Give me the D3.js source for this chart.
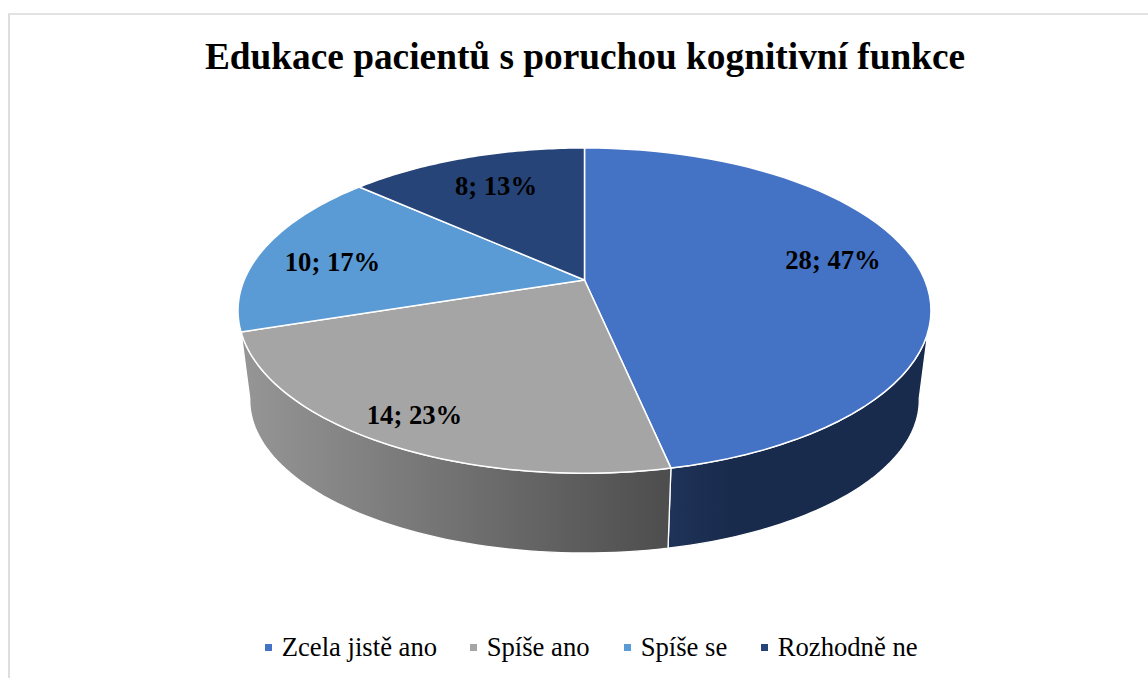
<!DOCTYPE html>
<html><head><meta charset="utf-8">
<style>html,body{margin:0;padding:0;background:#fff}svg{display:block}text{font-family:"Liberation Serif",serif;fill:#000}</style>
<script src="https://cdn.jsdelivr.net/npm/d3@7"></script></head>
<body><div id="chart"></div>
<script>
const titleText = "Edukace pacientů s poruchou kognitivní funkce";
const categories = ["Zcela jistě ano","Spíše ano","Spíše se","Rozhodně ne"];
const values = [28,14,10,8];
const percents = [47,23,17,13];
const faceColors = ["#4472C4","#A5A5A5","#5B9BD5","#264478"];
const wallFrom = ["#1E3359","#969696","#5B9BD5","#264478"];
const wallTo = ["#192B4C","#4D4D4D","#5B9BD5","#264478"];

const W=1148,H=678;
const svg=d3.select("#chart").append("svg").attr("width",W).attr("height",H);
svg.append("path").attr("d","M9,678V14H1148").attr("fill","none").attr("stroke","#D9D9D9").attr("stroke-width",1.7);

svg.append("text").attr("x",585).attr("y",69).attr("text-anchor","middle")
  .attr("font-size",37.33).attr("font-weight","bold").text(titleText);

// perspective disc: unit circle -> screen
const cx=584.5, persp=0.185;
const project=(disc)=>(a)=>{
  const u=Math.sin(a), v=Math.cos(a), d=1+persp*v;
  return [cx+disc.A*u/d,(disc.a+disc.b*v)/d];
};
const topDisc=project({A:340.5,a:280.5,b:-105.2});
const baseDisc=project({A:329,a:371.7,b:-79});
const pie=d3.pie().sort(null).value(d=>d)(values);
const rad=d=>d*Math.PI/180;
const visStart=rad(100), visEnd=rad(260);
const arcPts=(f,a0,a1)=>d3.range(0,61).map(i=>f(a0+(a1-a0)*i/60));
const line=d3.line();

const defs=svg.append("defs");
const wallSlices=pie.filter(s=>s.endAngle>visStart&&s.startAngle<visEnd&&Math.min(s.endAngle,visEnd)-Math.max(s.startAngle,visStart)>rad(20));
wallSlices.forEach((s,k)=>{
  const i=s.index, a0=Math.max(s.startAngle,visStart), a1=Math.min(s.endAngle,visEnd);
  const last=k===wallSlices.length-1;
  const t=arcPts(topDisc,a0,a1), b=arcPts(baseDisc,a0,last?visEnd:a1);
  const all=t.concat(b);
  const xs=d3.extent(all,p=>p[0]);
  const g=defs.append("linearGradient").attr("id","w"+i).attr("gradientUnits","userSpaceOnUse")
    .attr("x1",i===0?xs[1]:xs[0]).attr("x2",i===0?xs[0]:xs[1]).attr("y1",0).attr("y2",0);
  if(i===0){g.append("stop").attr("offset",0).attr("stop-color",wallTo[i]);g.append("stop").attr("offset",.75).attr("stop-color",wallTo[i]);g.append("stop").attr("offset",1).attr("stop-color",wallFrom[i]);}
  else{g.append("stop").attr("offset",0).attr("stop-color",wallFrom[i]);g.append("stop").attr("offset",1).attr("stop-color",wallTo[i]);}
  svg.append("path").attr("d",line(t.concat(b.reverse()))+"Z")
    .attr("fill",`url(#w${i})`).attr("stroke","#fff").attr("stroke-width",1.3).attr("stroke-linejoin","round");
});
// top faces
const apex=[cx,280];
pie.forEach(s=>{
  svg.append("path").attr("d",line([apex].concat(arcPts(topDisc,s.startAngle,s.endAngle)))+"Z")
    .attr("fill",faceColors[s.index]).attr("stroke","#fff").attr("stroke-width",1.5).attr("stroke-linejoin","round");
});
// data labels
const labelPos=[[833,269],[414.5,424],[332.5,271],[496,195]];
values.forEach((v,i)=>{
  svg.append("text").attr("x",labelPos[i][0]).attr("y",labelPos[i][1]).attr("text-anchor","middle")
    .attr("font-size",26.67).attr("font-weight","bold").text(`${v}; ${percents[i]}%`);
});
// legend
const legendX=[265,470,624,761];
categories.forEach((c,i)=>{
  svg.append("rect").attr("x",legendX[i]).attr("y",644).attr("width",7).attr("height",7).attr("fill",faceColors[i]);
  svg.append("text").attr("x",legendX[i]+16.7).attr("y",656).attr("font-size",26.67).text(c);
});
</script></body></html>
